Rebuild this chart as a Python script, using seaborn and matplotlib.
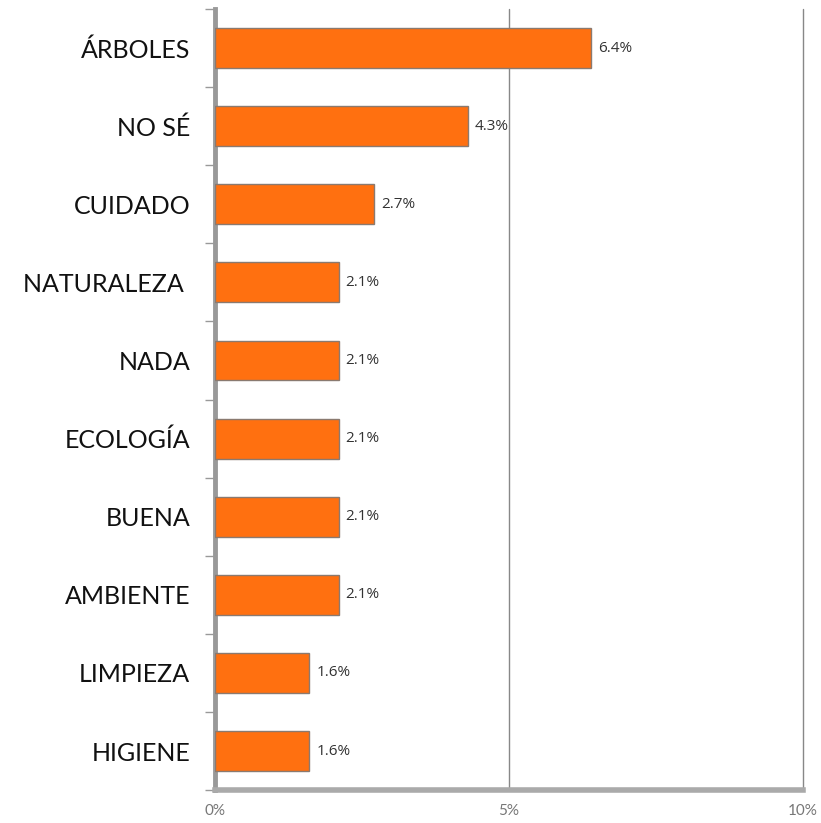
import seaborn as sns
import matplotlib.pyplot as plt
import pandas as pd

# Data
palabras = ["ÁRBOLES", "NO SÉ", "CUIDADO", "NATURALEZA ", "NADA",
            "ECOLOGÍA", "BUENA", "AMBIENTE", "LIMPIEZA", "HIGIENE"]
porcentajes = [6.4, 4.3, 2.7, 2.1, 2.1, 2.1, 2.1, 2.1, 1.6, 1.6]
x_ticks = [0, 5, 10]
x_tick_labels = ["0%", "5%", "10%"]

df = pd.DataFrame({"palabra": palabras, "pct": porcentajes})

sns.set_style("white")
plt.rcParams['font.family'] = ['Lato', 'DejaVu Sans']

fig = plt.figure(figsize=(8.21, 8.23), dpi=100)
ax = fig.add_axes([0.262, 0.040, 0.716, 0.949])

sns.barplot(data=df, x="pct", y="palabra", orient="h", color="#ff7010",
            saturation=1, width=0.51, edgecolor="#8a7a70", linewidth=1,
            ax=ax, zorder=3)

# value labels
for i, v in enumerate(porcentajes):
    ax.text(v + 0.12, i, f"{v}%", va="center", ha="left",
            fontsize=11, color="#333333", family=["Open Sans", "DejaVu Sans"])

ax.set_xlim(0, 10)
ax.set_ylim(len(palabras) - 0.5, -0.5)
ax.set_xticks(x_ticks)
ax.set_xticklabels(x_tick_labels, fontsize=11, color="#777777")
ax.tick_params(axis="x", length=0, pad=10)
ax.set_yticks(range(len(palabras)))
ax.set_yticklabels(palabras, fontsize=18, color="#111111")
ax.tick_params(axis="y", length=0, pad=18)

# minor ticks between categories
ax.set_yticks([i - 0.5 for i in range(len(palabras) + 1)], minor=True)
ax.tick_params(axis="y", which="minor", left=True, direction="out",
               length=7, color="#999999", width=1)

ax.set_xlabel("")
ax.set_ylabel("")

# vertical gridlines
for x in x_ticks[1:]:
    ax.axvline(x, color="#888888", linewidth=1, zorder=1, clip_on=False)

for side in ["top", "right"]:
    ax.spines[side].set_visible(False)
ax.spines["left"].set_color("#999999")
ax.spines["left"].set_linewidth(3.5)
ax.spines["bottom"].set_color("#aaaaaa")
ax.spines["bottom"].set_linewidth(4)

plt.savefig("out.png", dpi=100)
